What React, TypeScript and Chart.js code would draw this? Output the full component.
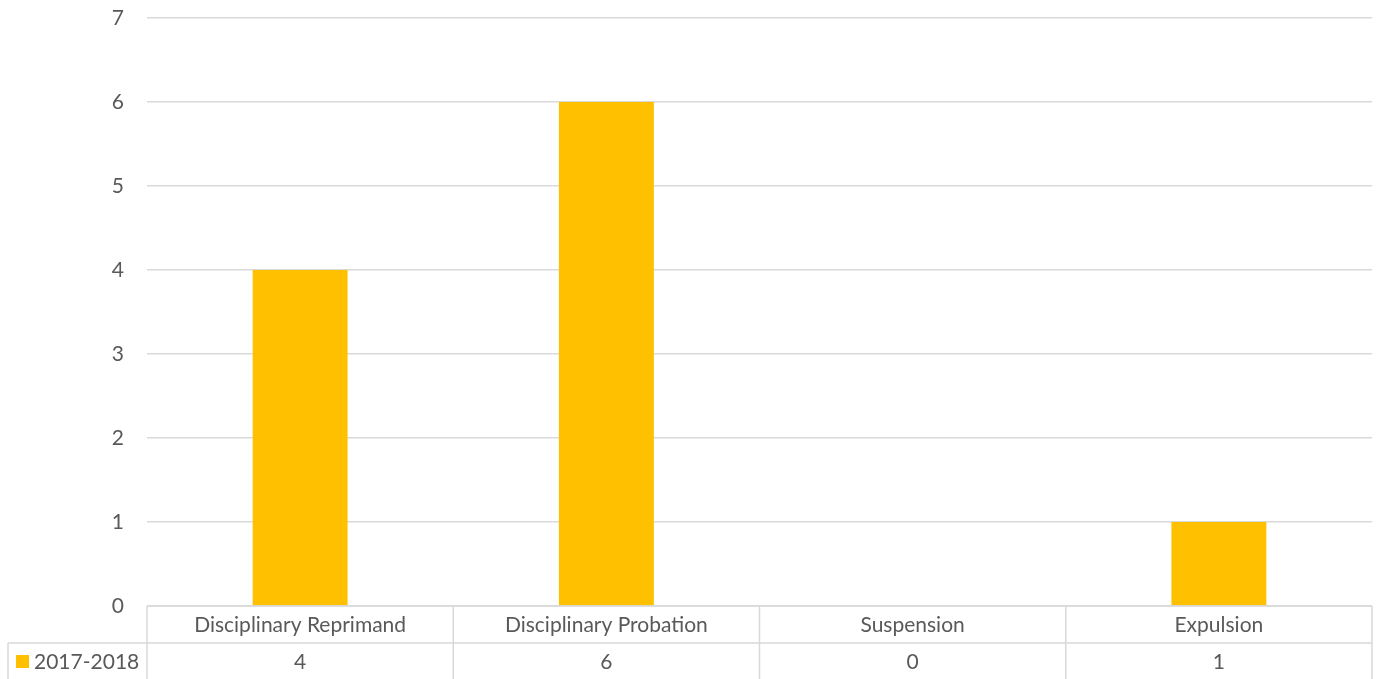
import React, { useEffect, useRef } from "react";
import { Chart, registerables } from "chart.js";

Chart.register(...registerables);

const categories = ["Disciplinary Reprimand", "Disciplinary Probation", "Suspension", "Expulsion"];
const seriesName = "2017-2018";
const seriesValues = [4, 6, 0, 1];
const yMin = 0;
const yMax = 7;
const yStep = 1;

const FONT = "Lato, 'Open Sans', sans-serif";
const FSIZE = 21;
const TEXT = "#595959";
const LINE = "#d9d9d9";
const BAR = "#FFC000";

const tablePlugin = {
  id: "dataTable",
  afterDraw(chart: any) {
    const ctx = chart.ctx as CanvasRenderingContext2D;
    const xs = chart.scales.x;
    const area = chart.chartArea;
    const n = categories.length;
    const colW = area.width / n;
    const top = area.bottom;
    const rowH = 37;
    const mid = top + rowH;
    const bottom = chart.height;
    const tableLeft = 8;
    ctx.save();
    ctx.strokeStyle = LINE;
    ctx.lineWidth = 1.5;
    ctx.beginPath();
    ctx.moveTo(area.left, top);
    ctx.lineTo(area.right, top);
    ctx.moveTo(tableLeft, mid);
    ctx.lineTo(area.right, mid);
    ctx.moveTo(tableLeft, mid);
    ctx.lineTo(tableLeft, bottom);
    for (let i = 0; i <= n; i++) {
      const xx = area.left + i * colW;
      ctx.moveTo(xx, top);
      ctx.lineTo(xx, bottom);
    }
    ctx.stroke();

    ctx.fillStyle = TEXT;
    ctx.font = `${FSIZE}px ${FONT}`;
    ctx.textAlign = "center";
    ctx.textBaseline = "middle";
    for (let i = 0; i < n; i++) {
      const cx = xs.getPixelForValue(i);
      ctx.fillText(categories[i], cx, top + rowH / 2 + 1);
      ctx.fillText(String(seriesValues[i]), cx, mid + (bottom - mid) / 2 + 1);
    }
    ctx.fillStyle = BAR;
    ctx.fillRect(16, mid + 12, 13, 13);
    ctx.fillStyle = TEXT;
    ctx.textAlign = "left";
    ctx.fillText(seriesName, 34, mid + (bottom - mid) / 2 + 1);
    ctx.restore();
  },
};

export default function App() {
  const ref = useRef<HTMLCanvasElement>(null);
  useEffect(() => {
    if (!ref.current) return;
    const chart = new Chart(ref.current, {
      type: "bar",
      data: {
        labels: categories,
        datasets: [
          {
            label: seriesName,
            data: seriesValues,
            backgroundColor: BAR,
            categoryPercentage: 1,
            barPercentage: 0.31,
          },
        ],
      },
      options: {
        animation: false,
        responsive: false,
        maintainAspectRatio: false,
        layout: { padding: { left: 0, top: 18, right: 10, bottom: 73 } },
        plugins: { legend: { display: false }, tooltip: { enabled: false } },
        scales: {
          x: { display: false, offset: true },
          y: {
            min: yMin,
            max: yMax,
            border: { display: false },
            grid: {
              color: LINE,
              lineWidth: 1.5,
              drawTicks: true,
              tickLength: 23,
              tickColor: "rgba(0,0,0,0)",
            },
            ticks: {
              stepSize: yStep,
              color: TEXT,
              font: { family: FONT, size: FSIZE },
              padding: 0,
            },
            afterFit(scale: any) {
              scale.width = 147;
            },
          },
        },
      },
      plugins: [tablePlugin],
    });
    return () => chart.destroy();
  }, []);
  return (
    <div style={{ position: "absolute", left: 0, top: 0, width: 1382, height: 679 }}>
      <canvas ref={ref} width={1382} height={679} style={{ display: "block" }} />
    </div>
  );
}
